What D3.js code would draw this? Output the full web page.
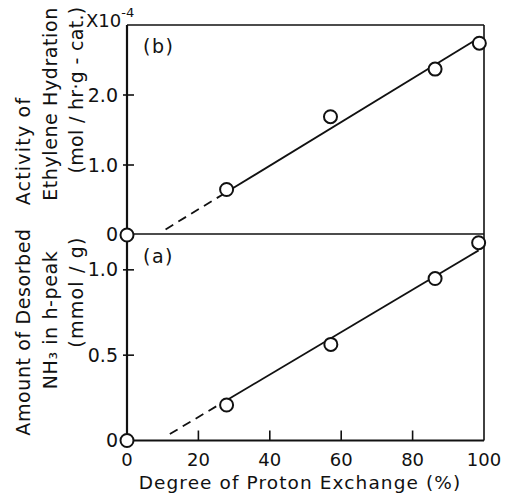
<!DOCTYPE html>
<html><head><meta charset="utf-8">
<script src="https://cdn.jsdelivr.net/npm/d3@7"></script>
<style>
html,body{margin:0;padding:0;background:#fff;}
text{font-family:"DejaVu Sans",sans-serif;fill:#111;}
</style></head>
<body>
<svg id="chart" width="512" height="493"></svg>
<script>
// ---- data ----
const xTicks = [0, 20, 40, 60, 80, 100];
const topTicks = [0, 1, 2];
const topTickLabels = ["0", "1.0", "2.0"];
const botTicks = [0, 0.5, 1.0];
const botTickLabels = ["0", "0.5", "1.0"];

const exchangeB = [0, 27.9, 57.0, 86.3, 98.7];
const activity = [0, 0.65, 1.69, 2.37, 2.74];
const exchangeA = [0, 27.9, 57.1, 86.3, 98.5];
const nh3 = [0, 0.208, 0.563, 0.949, 1.159];

const fitBx = [10.8, 27.9, 99.0];
const fitBy = [0.08, 0.613, 2.83];
const fitAx = [12.0, 27.9, 98.5];
const fitAy = [0.038, 0.236, 1.114];

// ---- layout ----
const svg = d3.select("#chart");
const L = 127, R = 484, T = 25, MID = 234, B = 440.5;
const x = d3.scaleLinear().domain([0, 100]).range([L, R]);
const yB = d3.scaleLinear().domain([0, 3]).range([235, T]);
const yA = d3.scaleLinear().domain([0, 1.21]).range([B, MID]);

// frame
const g = svg.append("g").attr("stroke", "#111").attr("fill", "none");
g.append("line").attr("x1", L).attr("x2", R).attr("y1", T).attr("y2", T).attr("stroke-width", 1.6);
g.append("line").attr("x1", R).attr("x2", R).attr("y1", T).attr("y2", B).attr("stroke-width", 1.6);
g.append("line").attr("x1", L).attr("x2", R).attr("y1", MID).attr("y2", MID).attr("stroke-width", 1.6);
g.append("line").attr("x1", L).attr("x2", R).attr("y1", B).attr("y2", B).attr("stroke-width", 2);
g.append("line").attr("x1", L).attr("x2", L).attr("y1", T).attr("y2", B).attr("stroke-width", 2.2);

// x ticks (inward)
xTicks.forEach(t => {
  if (t > 0 && t < 100) {
    g.append("line").attr("x1", x(t)).attr("x2", x(t)).attr("y1", B).attr("y2", B - 10).attr("stroke-width", 1.6);
  }
  svg.append("text").attr("x", x(t)).attr("y", 466).attr("text-anchor", "middle")
    .attr("font-size", 18).text(t);
});

// y ticks
topTicks.forEach((t, i) => {
  if (t > 0) g.append("line").attr("x1", L - 4).attr("x2", L + 7).attr("y1", yB(t)).attr("y2", yB(t)).attr("stroke-width", 1.6);
  svg.append("text").attr("x", 118).attr("y", t === 0 ? 234 : yB(t)).attr("dy", "0.35em")
    .attr("text-anchor", "end").attr("font-size", 19).text(topTickLabels[i]);
});
botTicks.forEach((t, i) => {
  if (t > 0) g.append("line").attr("x1", L - 4).attr("x2", L + 7).attr("y1", yA(t)).attr("y2", yA(t)).attr("stroke-width", 1.6);
  svg.append("text").attr("x", 118).attr("y", yA(t)).attr("dy", "0.35em")
    .attr("text-anchor", "end").attr("font-size", 19).text(botTickLabels[i]);
});

// multiplier
const mt = svg.append("text").attr("x", 86).attr("y", 27).attr("font-size", 18);
mt.append("tspan").text("X10");
mt.append("tspan").attr("dy", -10).attr("font-size", 13).text("-4");

// fit lines
function fit(xs, ys, ysc) {
  const line = d3.line().x(d => x(d[0])).y(d => ysc(d[1]));
  svg.append("path").attr("d", line([[xs[0], ys[0]], [xs[1], ys[1]]]))
    .attr("fill", "none").attr("stroke", "#111").attr("stroke-width", 1.8).attr("stroke-dasharray", "9,6");
  svg.append("path").attr("d", line([[xs[1], ys[1]], [xs[2], ys[2]]]))
    .attr("fill", "none").attr("stroke", "#111").attr("stroke-width", 1.8);
}
fit(fitBx, fitBy, yB);
fit(fitAx, fitAy, yA);

// points
function pts(xs, ys, ysc) {
  svg.append("g").selectAll("circle").data(xs.map((d, i) => [d, ys[i]])).join("circle")
    .attr("cx", d => x(d[0])).attr("cy", d => ysc(d[1])).attr("r", 6.5)
    .attr("fill", "#fff").attr("stroke", "#111").attr("stroke-width", 2);
}
pts(exchangeB, activity, yB);
pts(exchangeA, nh3, yA);

// panel labels
svg.append("text").attr("x", 143).attr("y", 53).attr("font-size", 19).attr("letter-spacing", 1.5).text("(b)");
svg.append("text").attr("x", 143).attr("y", 263).attr("font-size", 19).attr("letter-spacing", 1.5).text("(a)");

// axis titles
svg.append("text").attr("x", 300).attr("y", 489).attr("text-anchor", "middle")
  .attr("font-size", 18.5).attr("letter-spacing", 1.1).text("Degree of Proton Exchange (%)");

function ylab(cx, cy, txt, ls) {
  svg.append("text").attr("transform", `translate(${cx},${cy}) rotate(-90)`)
    .attr("text-anchor", "middle").attr("dy", "0.35em").attr("font-size", 19)
    .attr("letter-spacing", ls).text(txt);
}
ylab(23, 151, "Activity of", 1.2);
ylab(50, 104, "Ethylene Hydration", 0.6);
ylab(76, 90, "(mol / hr·g - cat.)", 0.3);
ylab(23, 332, "Amount of Desorbed", 0.6);
ylab(50, 320, "NH₃ in h-peak", 0.6);
ylab(76, 292, "(mmol / g)", 1.2);
</script>
</body></html>
